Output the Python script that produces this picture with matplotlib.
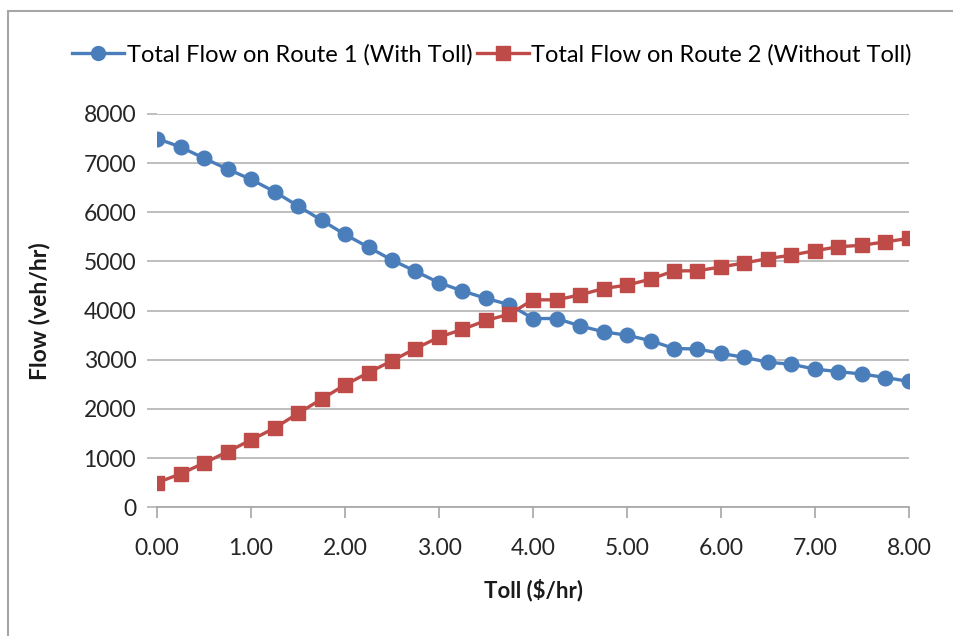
import matplotlib
matplotlib.use("Agg")
import matplotlib.pyplot as plt
from matplotlib.patches import Rectangle
import numpy as np

plt.rcParams['font.family'] = ['Lato', 'DejaVu Sans']

toll = [0.00, 0.25, 0.50, 0.75, 1.00, 1.25, 1.50, 1.75, 2.00, 2.25, 2.50, 2.75,
        3.00, 3.25, 3.50, 3.75, 4.00, 4.25, 4.50, 4.75, 5.00, 5.25, 5.50, 5.75,
        6.00, 6.25, 6.50, 6.75, 7.00, 7.25, 7.50, 7.75, 8.00]
route1 = [7500, 7330, 7100, 6880, 6670, 6420, 6130, 5840, 5550, 5290, 5030, 4800,
          4570, 4400, 4250, 4120, 3840, 3840, 3690, 3570, 3500, 3390, 3230, 3220,
          3130, 3050, 2950, 2910, 2810, 2760, 2710, 2640, 2560]
route2 = [500, 680, 900, 1130, 1370, 1610, 1910, 2200, 2490, 2740, 2980, 3230,
          3460, 3620, 3800, 3930, 4220, 4220, 4320, 4450, 4520, 4640, 4810, 4810,
          4890, 4970, 5060, 5130, 5220, 5300, 5330, 5400, 5470]
xticks = [0, 1, 2, 3, 4, 5, 6, 7, 8]
xticklabels = ["0.00", "1.00", "2.00", "3.00", "4.00", "5.00", "6.00", "7.00", "8.00"]
yticks = [0, 1000, 2000, 3000, 4000, 5000, 6000, 7000, 8000]
label1 = "Total Flow on Route 1 (With Toll)"
label2 = "Total Flow on Route 2 (Without Toll)"

W, H = 954, 636
fig = plt.figure(figsize=(W / 100, H / 100), dpi=100)
fig.patch.set_facecolor('white')

# outer border
fig.patches.append(Rectangle((8 / W, -0.05), 1.1, 1 - 11 / H + 0.05,
                             transform=fig.transFigure, fill=False,
                             edgecolor='#a6a6a6', linewidth=1.5))

ax = fig.add_axes([157 / W, 1 - 507.3 / H, 752 / W, (507.3 - 114) / H])

blue = '#4a7ebb'
red = '#be4b48'
ax.plot(toll, route1, color=blue, marker='o', markersize=10.5, linewidth=2.4,
        label=label1, zorder=3)
ax.plot(toll, route2, color=red, marker='s', markersize=10, linewidth=2.4,
        label=label2, zorder=3)

ax.set_xlim(0, 8)
ax.set_ylim(0, 8000)
ax.set_xticks(xticks)
ax.set_xticklabels(xticklabels)
ax.set_yticks(yticks)
ax.set_yticklabels([str(v) for v in yticks])
ax.yaxis.grid(True, color='#b3b3b3', linewidth=1.2)
ax.set_axisbelow(True)
for s in ['top', 'right', 'left']:
    ax.spines[s].set_visible(False)
ax.spines['bottom'].set_color('#a6a6a6')
ax.spines['bottom'].set_linewidth(1.2)
ax.tick_params(axis='x', direction='out', length=8, color='#a6a6a6', width=1.2,
               labelsize=16.5, pad=14, labelcolor='#262626')
ax.tick_params(axis='y', direction='out', length=7, color='#b3b3b3', width=1.2,
               labelsize=16.5, pad=8, labelcolor='#262626')
ax.set_xlabel("Toll ($/hr)", fontsize=16, fontweight='bold', labelpad=14, color='#1a1a1a')
ax.set_ylabel("Flow (veh/hr)", fontsize=16.5, fontweight='bold', labelpad=24, color='#1a1a1a')

fig.legend(loc='center', bbox_to_anchor=(492 / W, 1 - 55 / H), ncol=2,
           frameon=False, fontsize=17, handlelength=2.2, handletextpad=0.1,
           columnspacing=0.2, markerscale=0.95, borderpad=0.1)

fig.savefig("out.png", dpi=100)
